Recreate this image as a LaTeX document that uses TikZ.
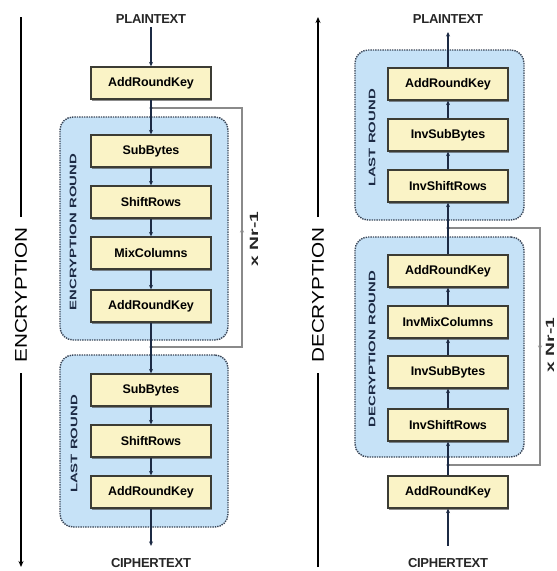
\documentclass[tikz,border=0pt]{standalone}
\usepackage{fontspec}
\usepackage{graphicx}
\setmainfont{Liberation Sans}
\usetikzlibrary{arrows.meta,shadows}
\definecolor{boxfill}{HTML}{FAF3C6}
\definecolor{boxline}{HTML}{3C3C34}
\definecolor{roundfill}{HTML}{C6E2F7}
\definecolor{roundline}{HTML}{3A4658}
\definecolor{flowcol}{HTML}{1C2A44}
\definecolor{loopcol}{HTML}{8A8A8A}
\newcommand\hstretch[2]{\scalebox{#1}[1]{#2}}
\tikzset{
  opbox/.style={draw=boxline, fill=boxfill, line width=1.3pt, minimum width=120pt, minimum height=32pt, inner sep=0pt,
    font=\bfseries\fontsize{12.5}{14}\selectfont\addfontfeatures{LetterSpace=-1},
    drop shadow={shadow xshift=1pt, shadow yshift=-1.6pt, fill=black!75, opacity=.6}},
  roundbox/.style={draw=roundline, fill=roundfill, densely dotted, line width=1.4pt, rounded corners=13pt, inner sep=0pt},
  roundlbl/.style={font=\bfseries\fontsize{9.5}{11}\selectfont, text=flowcol, rotate=90},
  endlbl/.style={font=\bfseries\fontsize{13}{15}\selectfont\addfontfeatures{LetterSpace=-2}, text=black!85},
  sidelbl/.style={font=\fontsize{17}{20}\selectfont, rotate=90, inner xsep=10pt, inner ysep=2pt},
  sideline/.style={draw=black, line width=1.2pt},
  flow/.style={draw=flowcol, line width=1.1pt, -{Stealth[length=4.5pt,width=4pt]}},
  loopline/.style={draw=loopcol, line width=1.1pt},
  looplbl/.style={font=\bfseries\fontsize{12}{14}\selectfont, rotate=90, text=black!85},
}
\begin{document}
\begin{tikzpicture}[x=1pt,y=-1pt]
\useasboundingbox[fill=white] (0,0) rectangle (557,571);

% ---------- ENCRYPTION ----------
\node[roundbox, minimum width=168pt, minimum height=223pt] (encround) at (144,228.5) {};
\node[roundbox, minimum width=168pt, minimum height=172pt] (enclast) at (144,441) {};
\node[roundlbl] (encroundlbl) at (73,232) {\hstretch{1.57}{ENCRYPTION ROUND}};
\node[roundlbl] (enclastlbl) at (74,444) {\hstretch{1.57}{LAST ROUND}};

\node[endlbl] (plainL) at (151,19) {PLAINTEXT};
\node[endlbl] (cipherL) at (151,563) {CIPHERTEXT};

\node[opbox] (ark1) at (151,83) {AddRoundKey};
\node[opbox] (sb1) at (151,151) {SubBytes};
\node[opbox] (sr1) at (151,202) {ShiftRows};
\node[opbox] (mc1) at (151,253) {MixColumns};
\node[opbox] (ark2) at (151,306) {AddRoundKey};
\node[opbox] (sb2) at (151,390) {SubBytes};
\node[opbox] (sr2) at (151,441) {ShiftRows};
\node[opbox] (ark3) at (151,492) {AddRoundKey};

\coordinate (lsL) at (151,108);
\coordinate (ltL) at (242,108);
\coordinate (lbL) at (242,347);
\coordinate (leL) at (151,347);
\coordinate (lmL) at (242,228);
\draw[loopline] (lsL) -- (ltL) -- (lbL) -- (leL);
\draw[loopline, -{Stealth[length=4.5pt,width=4pt]}] (lbL) -- (lmL);
\node[looplbl] (nrL) at (254,239) {\hstretch{1.6}{x Nr-1}};

\draw[flow] (plainL) -- (ark1);
\draw[flow] (ark1) -- (sb1);
\draw[flow] (sb1) -- (sr1);
\draw[flow] (sr1) -- (mc1);
\draw[flow] (mc1) -- (ark2);
\draw[flow] (ark2) -- (sb2);
\draw[flow] (sb2) -- (sr2);
\draw[flow] (sr2) -- (ark3);
\draw[flow, shorten >=9pt] (ark3) -- (cipherL);
\fill[flowcol] (lsL) circle (1.6pt);
\fill[flowcol] (leL) circle (1.6pt);

\node[sidelbl] (enclbl) at (21,295) {\hstretch{1.22}{ENCRYPTION}};
\coordinate (enctop) at (21,17);
\coordinate (encbot) at (21,567);
\draw[sideline] (enctop) -- (enclbl.east);
\draw[sideline, -{Stealth[length=6pt,width=5pt]}] (enclbl.west) -- (encbot);

% ---------- DECRYPTION ----------
\node[roundbox, minimum width=169pt, minimum height=170pt] (declast) at (439.5,135) {};
\node[roundbox, minimum width=169pt, minimum height=220pt] (decround) at (439.5,347) {};
\node[roundlbl] (declastlbl) at (372,138) {\hstretch{1.57}{LAST ROUND}};
\node[roundlbl] (decroundlbl) at (372,349) {\hstretch{1.57}{DECRYPTION ROUND}};

\node[endlbl] (plainR) at (448,19) {PLAINTEXT};
\node[endlbl] (cipherR) at (448,563) {CIPHERTEXT};

\node[opbox] (arkR1) at (448,84) {AddRoundKey};
\node[opbox] (isbR1) at (448,135) {InvSubBytes};
\node[opbox] (isrR1) at (448,186) {InvShiftRows};
\node[opbox] (arkR2) at (448,271) {AddRoundKey};
\node[opbox] (imcR) at (448,322) {InvMixColumns};
\node[opbox] (isbR2) at (448,372) {InvSubBytes};
\node[opbox] (isrR2) at (448,425) {InvShiftRows};
\node[opbox] (arkR3) at (448,492) {AddRoundKey};

\coordinate (lsR) at (448,228);
\coordinate (ltR) at (540,228);
\coordinate (lbR) at (540,465);
\coordinate (leR) at (448,465);
\coordinate (lmR) at (540,350);
\draw[loopline] (lsR) -- (ltR) -- (lbR) -- (leR);
\draw[loopline, -{Stealth[length=4.5pt,width=4pt]}] (ltR) -- (lmR);
\node[looplbl] (nrR) at (550,345) {\hstretch{1.6}{x Nr-1}};

\draw[flow, shorten <=9pt] (cipherR) -- (arkR3);
\draw[flow] (arkR3) -- (isrR2);
\draw[flow] (isrR2) -- (isbR2);
\draw[flow] (isbR2) -- (imcR);
\draw[flow] (imcR) -- (arkR2);
\draw[flow] (arkR2) -- (isrR1);
\draw[flow] (isrR1) -- (isbR1);
\draw[flow] (isbR1) -- (arkR1);
\draw[flow, shorten >=5pt] (arkR1) -- (plainR);
\fill[flowcol] (lsR) circle (1.6pt);
\fill[flowcol] (leR) circle (1.6pt);

\node[sidelbl] (declbl) at (318,295) {\hstretch{1.22}{DECRYPTION}};
\coordinate (dectop) at (318,17);
\coordinate (decbot) at (318,567);
\draw[sideline, -{Stealth[length=6pt,width=5pt]}] (declbl.east) -- (dectop);
\draw[sideline] (decbot) -- (declbl.west);
\end{tikzpicture}
\end{document}
